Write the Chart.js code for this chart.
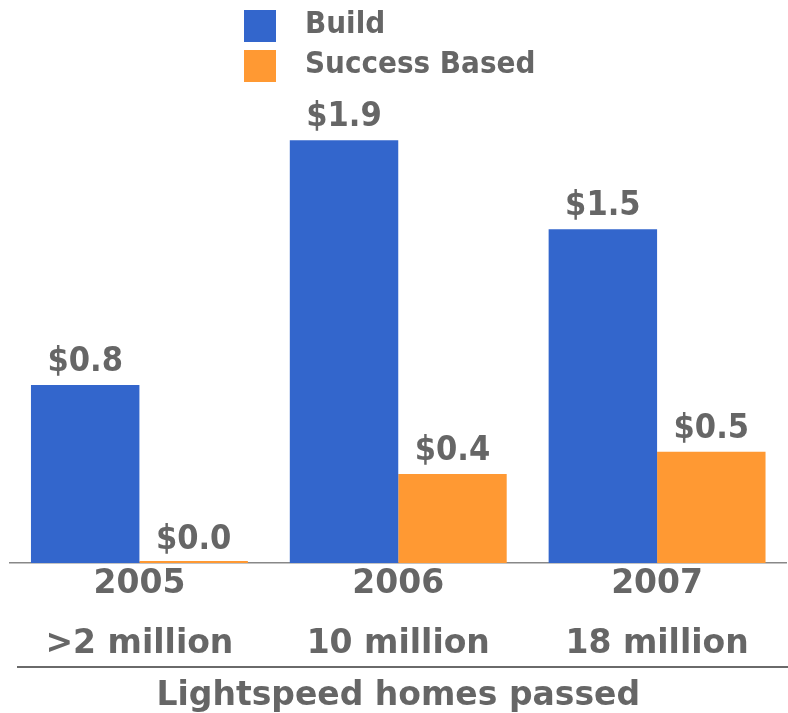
<!DOCTYPE html>
<html>
<head>
<meta charset="utf-8">
<script src="https://cdn.jsdelivr.net/npm/chart.js@4/dist/chart.umd.min.js"></script>
<style>
  html, body { margin: 0; padding: 0; background: #fff; }
  #wrap { width: 788px; height: 713px; }
</style>
</head>
<body>
<div id="wrap"><canvas id="c" width="788" height="713"></canvas></div>
<script>
// Capital spend by year ($ billions)
const years = ['2005', '2006', '2007'];
const homesPassed = ['>2 million', '10 million', '18 million'];
const buildSpend = [0.8, 1.9, 1.5];
const successBasedSpend = [0.0, 0.4, 0.5];
const seriesNames = ['Build', 'Success Based'];
const axisTitle = 'Lightspeed homes passed';

const BLUE = '#3366CC';
const ORANGE = '#FF9933';
const GRAY = '#666666';
const FONT = "'DejaVu Sans', Verdana, sans-serif";
const NARROW = "'DejaVu Sans Condensed', 'DejaVu Sans', sans-serif";

// Vertical legend: colour square followed by the series name
const sideLegend = {
  id: 'sideLegend',
  afterDraw(chart) {
    const ctx = chart.ctx;
    ctx.save();
    ctx.font = 'bold 31px ' + NARROW;
    ctx.textBaseline = 'middle';
    ctx.textAlign = 'left';
    chart.data.datasets.forEach((ds, i) => {
      const top = 10 + i * 40;
      ctx.fillStyle = ds.backgroundColor;
      ctx.fillRect(244, top, 32, 32);
      ctx.fillStyle = GRAY;
      ctx.fillText(ds.label, 305, top + 15);
    });
    ctx.restore();
  }
};

// Dollar value above every bar
const valueLabels = {
  id: 'valueLabels',
  afterDatasetsDraw(chart) {
    const ctx = chart.ctx;
    ctx.save();
    ctx.font = 'bold 34px ' + NARROW;
    ctx.fillStyle = GRAY;
    ctx.textAlign = 'center';
    ctx.textBaseline = 'alphabetic';
    chart.data.datasets.forEach((ds, di) => {
      const meta = chart.getDatasetMeta(di);
      meta.data.forEach((bar, i) => {
        const v = ds.data[i];
        const y = chart.scales.y.getPixelForValue(v);
        ctx.fillText('$' + v.toFixed(1), bar.x, y - 14);
      });
    });
    ctx.restore();
  }
};

// Rule separating the homes-passed labels from the axis title
const titleRule = {
  id: 'titleRule',
  afterDraw(chart) {
    const xs = chart.scales.x;
    const ctx = chart.ctx;
    const y = xs.bottom - 45;
    ctx.save();
    ctx.strokeStyle = '#6a6a6a';
    ctx.lineWidth = 2;
    ctx.beginPath();
    ctx.moveTo(17, y);
    ctx.lineTo(chart.width, y);
    ctx.stroke();
    ctx.restore();
  }
};

new Chart(document.getElementById('c'), {
  type: 'bar',
  data: {
    labels: years.map((y, i) => [y, homesPassed[i]]),
    datasets: [
      { label: seriesNames[0], data: buildSpend, backgroundColor: BLUE },
      { label: seriesNames[1], data: successBasedSpend, backgroundColor: ORANGE, minBarLength: 2 }
    ]
  },
  options: {
    responsive: false,
    animation: false,
    devicePixelRatio: 1,
    layout: { padding: { top: 118, left: 10, right: 1.5, bottom: 1 } },
    plugins: {
      legend: { display: false },
      tooltip: { enabled: false }
    },
    datasets: {
      bar: { barPercentage: 1.0, categoryPercentage: 0.838 }
    },
    scales: {
      x: {
        grid: { display: false, drawTicks: false },
        border: { display: true, color: '#888888', width: 1.5 },
        ticks: {
          color: GRAY,
          padding: -9,
          font: { family: FONT, size: 33, weight: 'bold', lineHeight: '60px' }
        },
        title: {
          display: true,
          text: axisTitle,
          color: GRAY,
          padding: { top: 16, bottom: 1 },
          font: { family: FONT, size: 33, weight: 'bold', lineHeight: '30px' }
        }
      },
      y: {
        display: false,
        min: 0,
        max: 2.0
      }
    }
  },
  plugins: [sideLegend, valueLabels, titleRule]
});
</script>
</body>
</html>
